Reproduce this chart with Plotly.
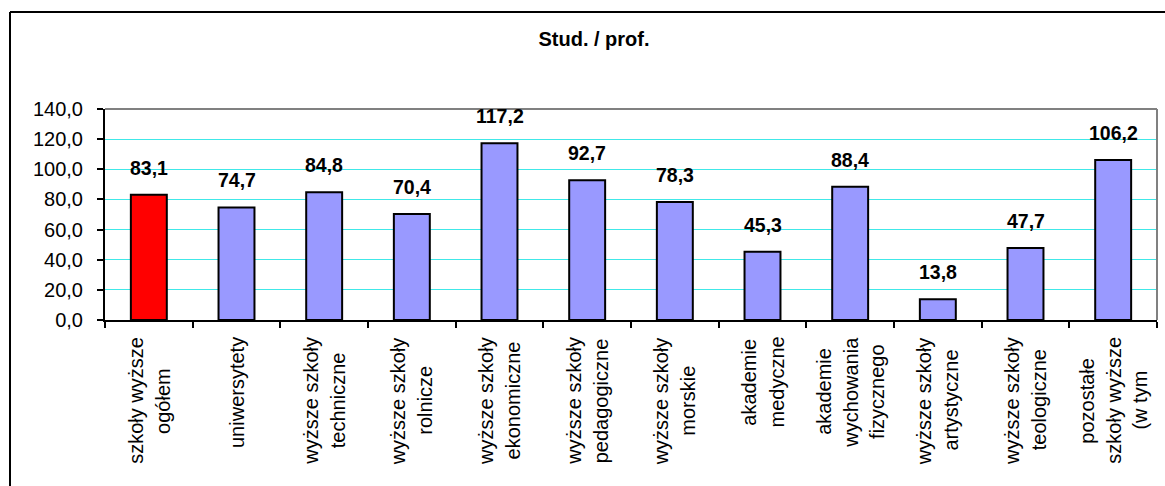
import plotly.graph_objects as go

# Students per professor by type of higher-education institution
categories = [
    "szkoły wyższe<br>ogółem",
    "uniwersytety",
    "wyższe szkoły<br>techniczne",
    "wyższe szkoły<br>rolnicze",
    "wyższe szkoły<br>ekonomiczne",
    "wyższe szkoły<br>pedagogiczne",
    "wyższe szkoły<br>morskie",
    "akademie<br>medyczne",
    "akademie<br>wychowania<br>fizycznego",
    "wyższe szkoły<br>artystyczne",
    "wyższe szkoły<br>teologiczne",
    "pozostałe<br>szkoły wyższe<br>(w tym",
]
values = [83.1, 74.7, 84.8, 70.4, 117.2, 92.7, 78.3, 45.3, 88.4, 13.8, 47.7, 106.2]
y_tick_values = [0, 20, 40, 60, 80, 100, 120, 140]
y_tick_labels = ["0,0", "20,0", "40,0", "60,0", "80,0", "100,0", "120,0", "140,0"]
title_text = "Stud. / prof."

FONT = "Liberation Sans, Arial, sans-serif"
W, H = 1165, 486
L, R, T, B = 105, 8, 109, 166
plot_w = W - L - R
plot_h = H - T - B
LABEL_SIZE = 20
LINE_STEP = 27  # px between lines of a rotated category label

# Arial / Liberation Sans advance widths (per 1000 em) for centring label lines
ADV = {
    "a": 556, "b": 556, "c": 500, "d": 556, "e": 556, "f": 278, "g": 556,
    "h": 556, "i": 222, "j": 222, "k": 500, "l": 222, "m": 833, "n": 556,
    "o": 556, "p": 556, "r": 333, "s": 500, "t": 278, "u": 556, "w": 722,
    "y": 500, "z": 500, "ł": 222, "ż": 500, "(": 333, " ": 278,
}


def text_len(s, size):
    return sum(ADV.get(ch, 556) for ch in s) * size / 1000.0


bar_colors = ["#FF0000"] + ["#9999FF"] * (len(values) - 1)
x_idx = list(range(len(values)))

fig = go.Figure()
fig.add_trace(go.Bar(
    x=x_idx,
    y=values,
    marker=dict(color=bar_colors, line=dict(color="#000000", width=2)),
    hoverinfo="skip",
))

annotations = []
# value labels above each bar
for i, v in zip(x_idx, values):
    annotations.append(dict(
        x=i, y=v, xref="x", yref="y",
        text="<b>" + f"{v:.1f}".replace(".", ",") + "</b>",
        showarrow=False, yanchor="bottom", yshift=14,
        font=dict(family=FONT, size=19.5, color="#000000"),
    ))

# rotated category labels below the axis, lines centred on the longest one
label_top = -(335 - (H - B)) / plot_h
for i, c in zip(x_idx, categories):
    lines = c.split("<br>")
    n = len(lines)
    longest = max(text_len(s, LABEL_SIZE) for s in lines)
    for j, s in enumerate(lines):
        annotations.append(dict(
            x=i, y=label_top, xref="x", yref="paper",
            text=s, textangle=-90,
            showarrow=False, yanchor="top", xanchor="center",
            xshift=(j - (n - 1) / 2) * LINE_STEP,
            yshift=-(longest - text_len(s, LABEL_SIZE)) / 2,
            font=dict(family=FONT, size=LABEL_SIZE, color="#000000"),
        ))

shapes = [
    # outer chart frame (left and top edges)
    dict(type="line", xref="paper", yref="paper",
         x0=(10 - L) / plot_w, x1=(W + 5 - L) / plot_w,
         y0=1 + (T - 12) / plot_h, y1=1 + (T - 12) / plot_h,
         line=dict(color="#000000", width=2)),
    dict(type="line", xref="paper", yref="paper",
         x0=(10 - L) / plot_w, x1=(10 - L) / plot_w,
         y0=1 + (T - 12) / plot_h, y1=-(B + 10) / plot_h,
         line=dict(color="#000000", width=2)),
    # plot area border (top and right edges)
    dict(type="line", xref="paper", yref="paper", x0=0, x1=1, y0=1, y1=1,
         line=dict(color="#808080", width=2)),
    dict(type="line", xref="paper", yref="paper", x0=1, x1=1, y0=0, y1=1,
         line=dict(color="#808080", width=2)),
]

fig.update_layout(
    width=W, height=H,
    margin=dict(l=L, r=R, t=T, b=B, pad=0),
    paper_bgcolor="#FFFFFF", plot_bgcolor="#FFFFFF",
    showlegend=False,
    bargap=0.59,
    title=dict(text="<b>" + title_text + "</b>", x=594 / W, y=1 - 39 / H,
               xanchor="center", yanchor="middle", xref="container", yref="container",
               font=dict(family=FONT, size=20, color="#000000")),
    xaxis=dict(
        type="linear", range=[-0.5, len(values) - 0.5],
        tickvals=[i - 0.5 for i in range(len(values) + 1)],
        showticklabels=False, ticks="outside", ticklen=6, tickwidth=1.5, tickcolor="#000000",
        showline=True, linecolor="#000000", linewidth=2,
        showgrid=False, zeroline=False, fixedrange=True,
    ),
    yaxis=dict(
        range=[0, 140], tickvals=y_tick_values, ticktext=y_tick_labels,
        ticks="outside", ticklen=6, tickwidth=1.5, tickcolor="#000000",
        ticklabelstandoff=10,
        tickfont=dict(family=FONT, size=20, color="#000000"),
        showline=True, linecolor="#000000", linewidth=2,
        showgrid=True, gridcolor="#40E8E8", gridwidth=1.2,
        zeroline=False, fixedrange=True,
    ),
    annotations=annotations,
    shapes=shapes,
)

fig.write_html("out.html", config={"displayModeBar": False})
